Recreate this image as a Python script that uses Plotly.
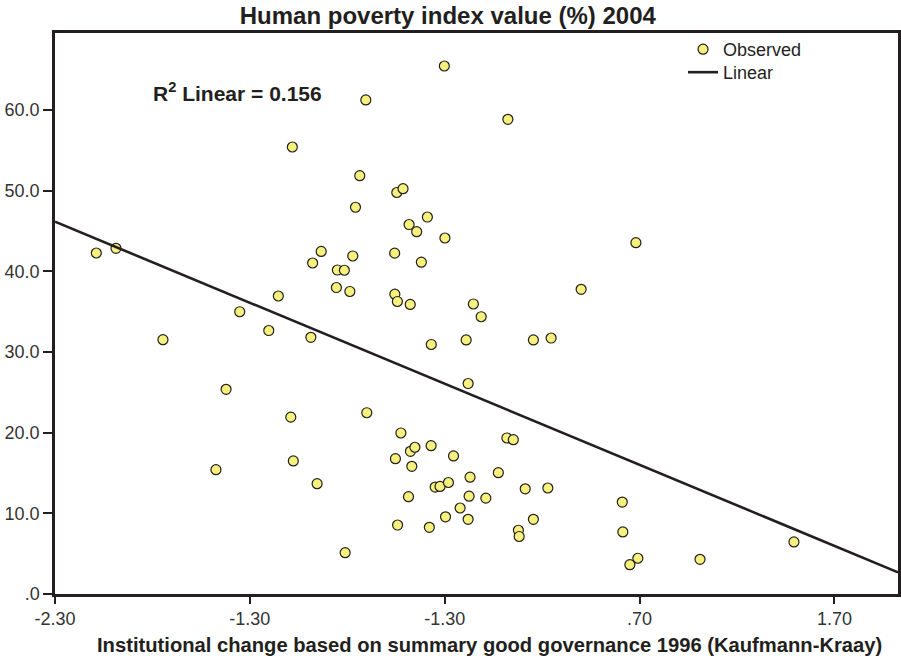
import plotly.graph_objects as go

# Observed points: institutional change (x) vs human poverty index (%) (y)
gov_change = [
    -0.302, -0.705, 0.024, -1.082, -0.736, -0.546, -0.514, -0.758, -0.389, -0.483,
    -0.444, -0.299, 0.681, -2.088, -1.987, -0.934, -0.978, -0.772, -0.557, -0.851,
    -0.815, -0.420, -0.856, -0.787, -0.556, -0.543, -0.477, -1.154, -1.352, 0.400,
    -0.153, -0.113, -1.203, -1.746, -0.987, -0.369, -0.190, 0.155, 0.246, -0.180,
    -1.422, -1.090, -0.700, 0.019, 0.052, -0.525, -0.476, -0.453, -0.370, -0.553,
    -0.469, -0.255, -1.474, -1.077, -0.955, -0.486, -0.349, -0.324, -0.281, -0.170,
    -0.025, -0.175, -0.089, 0.113, 0.229, -0.221, -0.296, -0.180, -0.542, -0.379,
    0.155, 0.078, 0.082, -0.811, 0.611, 0.614, 0.691, 0.650, 1.010, 1.492,
]
poverty_index = [
    65.45, 61.24, 58.84, 55.41, 51.85, 49.77, 50.24, 47.94, 46.73, 45.80,
    44.91, 44.13, 43.55, 42.27, 42.85, 42.46, 41.03, 41.90, 42.25, 40.16,
    40.13, 41.13, 37.99, 37.50, 37.16, 36.26, 35.89, 36.94, 34.99, 37.77,
    35.95, 34.37, 32.66, 31.52, 31.82, 30.93, 31.49, 31.49, 31.73, 26.09,
    25.37, 21.92, 22.47, 19.34, 19.13, 19.96, 17.69, 18.19, 18.38, 16.77,
    15.83, 17.11, 15.41, 16.49, 13.67, 12.06, 13.26, 13.33, 13.82, 14.48,
    15.04, 12.12, 11.88, 13.04, 13.14, 10.66, 9.57, 9.26, 8.55, 8.27,
    9.26, 7.90, 7.13, 5.12, 11.40, 7.69, 4.43, 3.63, 4.30, 6.45,
]

# Linear fit line endpoints
fit_x = [-2.30, 2.026]
fit_y = [46.15, 2.69]

x_tick_vals = [-2.30, -1.30, -0.30, 0.70, 1.70]
x_tick_text = ["-2.30", "-1.30", "-1.30", ".70", "1.70"]
y_tick_vals = [0, 10, 20, 30, 40, 50, 60]
y_tick_text = [".0", "10.0", "20.0", "30.0", "40.0", "50.0", "60.0"]

INK = "#231f20"
TICK_INK = "#333333"
FONT = "Liberation Sans, Arial, Helvetica, sans-serif"

fig = go.Figure()
fig.add_trace(go.Scatter(
    x=gov_change, y=poverty_index, mode="markers", name="Observed",
    marker=dict(size=10, color="#f6f07c", line=dict(color=INK, width=1.2)),
    legend="legend",
))
fig.add_trace(go.Scatter(
    x=fit_x, y=fit_y, mode="lines", name="Linear",
    line=dict(color=INK, width=2.6),
    legend="legend2",
))

fig.add_annotation(
    x=-1.807, y=62.2, xref="x", yref="y", xanchor="left", yanchor="middle",
    text="<b>R<sup>2</sup> Linear = 0.156</b>", showarrow=False,
    font=dict(family=FONT, size=21, color=INK),
)
fig.add_annotation(
    x=0.516, y=-0.0909, xref="paper", yref="paper", xanchor="center", yanchor="middle",
    text="<b>Institutional change based on summary good governance 1996 (Kaufmann-Kraay)</b>",
    showarrow=False, font=dict(family=FONT, size=20.2, color=INK),
)

legend_common = dict(xanchor="left", yanchor="top", bgcolor="rgba(0,0,0,0)",
                     font=dict(family=FONT, size=18, color=INK), itemwidth=30)

fig.update_layout(
    width=901, height=658,
    margin=dict(l=55, r=3, t=33, b=64, autoexpand=False),
    paper_bgcolor="white", plot_bgcolor="white",
    title=dict(text="<b>Human poverty index value (%) 2004</b>", x=0.497, xanchor="center",
               xref="container", yref="container",
               y=0.977, yanchor="middle", font=dict(family=FONT, size=24, color=INK)),
    showlegend=True,
    legend=dict(x=0.745, y=1.0036, **legend_common),
    legend2=dict(x=0.745, y=0.9626, **legend_common),
    font=dict(family=FONT, color=INK),
)
fig.update_xaxes(
    range=[-2.30, 2.026], tickvals=x_tick_vals, ticktext=x_tick_text,
    automargin=False,
    showgrid=False, zeroline=False, showline=True, linecolor=INK, linewidth=2.5,
    mirror=True, ticks="outside", ticklen=7, tickwidth=2, tickcolor=INK,
    tickfont=dict(family=FONT, size=18, color=TICK_INK),
)
fig.update_yaxes(
    range=[0, 69.54], tickvals=y_tick_vals, ticktext=y_tick_text,
    automargin=False,
    showgrid=False, zeroline=False, showline=True, linecolor=INK, linewidth=2.5,
    mirror=True, ticks="outside", ticklen=9, tickwidth=2, tickcolor=INK,
    tickfont=dict(family=FONT, size=18, color=TICK_INK),
)

fig.write_html(
    "out.html",
    config={"displayModeBar": False},
    post_script="document.body.style.margin='0';document.body.style.overflow='hidden';",
)
